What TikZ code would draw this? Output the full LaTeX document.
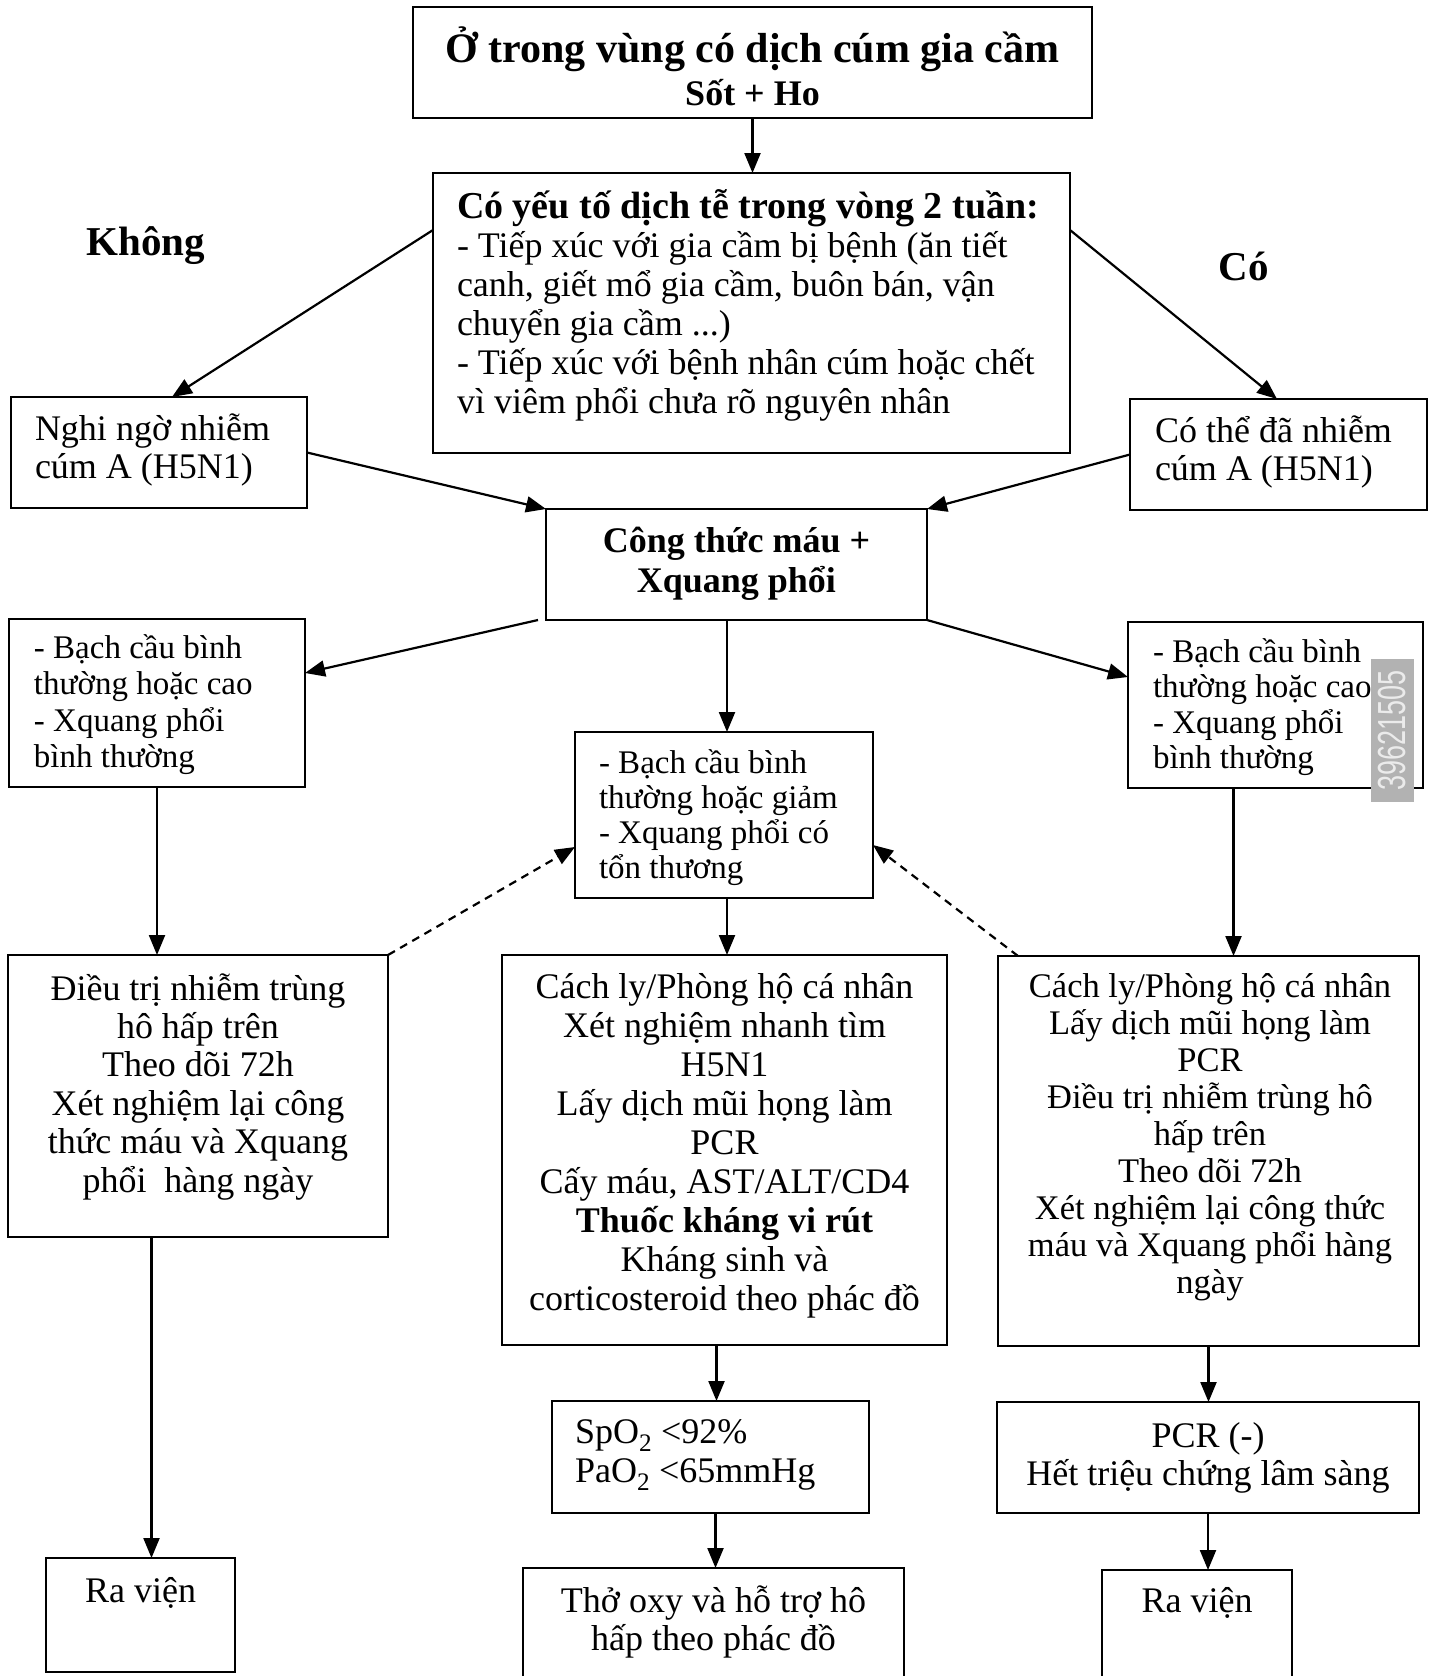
\documentclass[tikz,border=0pt]{standalone}
\usepackage{fontspec}
\setmainfont{Liberation Serif}
\setsansfont{Liberation Sans}
\usetikzlibrary{arrows.meta}
\newcommand{\centerlines}[1]{\vtop{\lineskiplimit=-1000pt\lineskip=0pt\halign{\hfil##\hfil\cr#1\crcr}}}
\newcommand{\leftlines}[1]{\vtop{\lineskiplimit=-1000pt\lineskip=0pt\halign{##\hfil\cr#1\crcr}}}
\tikzset{
  box/.style={draw, line width=2.8pt, inner sep=0pt, outer sep=0pt},
  txt/.style={inner sep=0pt, outer sep=0pt},
  arr/.style={line width=2.2pt, -{Triangle[length=20pt,width=16pt]}},
  dasharr/.style={arr, dash pattern=on 8pt off 6pt},
  fs/.style={font=\fontsize{#1}{#1}\selectfont},
}
\begin{document}
\begin{tikzpicture}[x=1pt,y=-1pt]
\useasboundingbox (0,0) rectangle (1431,1676);
\fill[white] (0,0) rectangle (1431,1676);

% ---------- boxes ----------
\node[box, minimum width=679pt, minimum height=111pt] (top) at (752.5,62.5) {};
\node[box, minimum width=637pt, minimum height=280pt] (epi) at (751.5,313) {};
\node[box, minimum width=296pt, minimum height=111pt] (nghi) at (159,452.5) {};
\node[box, minimum width=297pt, minimum height=111pt] (cothe) at (1278.5,454.5) {};
\node[box, minimum width=381pt, minimum height=111pt] (ctm) at (736.5,564.5) {};
\node[box, minimum width=296pt, minimum height=168pt] (bcL) at (157,703) {};
\node[box, minimum width=295pt, minimum height=166pt] (bcR) at (1275.5,705) {};
\node[box, minimum width=298pt, minimum height=166pt] (bcM) at (724,815) {};
\node[box, minimum width=380pt, minimum height=282pt] (dtL) at (198,1096) {};
\node[box, minimum width=445pt, minimum height=390pt] (clM) at (724.5,1150) {};
\node[box, minimum width=421pt, minimum height=390pt] (clR) at (1208.5,1151) {};
\node[box, minimum width=317pt, minimum height=112pt] (spo) at (710.5,1457) {};
\node[box, minimum width=422pt, minimum height=111pt] (pcr) at (1208,1457.5) {};
\node[box, minimum width=381pt, minimum height=132pt] (oxy) at (713.5,1634) {};
\node[box, minimum width=189pt, minimum height=114pt] (rvL) at (140.5,1615) {};
\node[box, minimum width=190pt, minimum height=130pt] (rvR) at (1197,1635) {};

% ---------- watermark ----------
\node[fill=black!30, minimum width=43pt, minimum height=143pt, inner sep=0pt] (wm) at (1392.5,730.5) {};
\node[txt, rotate=90, text=black!8, font=\sffamily] (wmT) at (wm.center) {\scalebox{1}[1.45]{\fontsize{27}{27}\selectfont 39621505}};

% ---------- texts ----------
\node[txt, anchor=base, font=\fontsize{42}{44}\selectfont\bfseries] (topA) at (752.5,62) {Ở trong vùng có dịch cúm gia cầm};
\node[txt, anchor=base, font=\fontsize{36}{40}\selectfont\bfseries] (topB) at (752.5,105) {Sốt + Ho};

\node[txt, anchor=base west, font=\fontsize{36}{39}\selectfont] (epiT) at (457,218)
  {\leftlines{{\fontsize{38}{39}\selectfont\bfseries Có yếu tố dịch tễ trong vòng 2 tuần:}\cr
   - Tiếp xúc với gia cầm bị bệnh (ăn tiết\cr
   canh, giết mổ gia cầm, buôn bán, vận\cr
   chuyển gia cầm ...)\cr
   - Tiếp xúc với bệnh nhân cúm hoặc chết\cr
   vì viêm phổi chưa rõ nguyên nhân}};

\node[txt, anchor=base, font=\fontsize{41}{44}\selectfont\bfseries] (khong) at (146,255) {Không};
\node[txt, anchor=base, font=\fontsize{41}{44}\selectfont\bfseries] (co) at (1244,280) {Có};

\node[txt, anchor=base west, font=\fontsize{36}{38}\selectfont] (nghiT) at (35,440)
  {\leftlines{Nghi ngờ nhiễm\cr cúm A (H5N1)}};
\node[txt, anchor=base west, font=\fontsize{36}{38}\selectfont] (cotheT) at (1155,442)
  {\leftlines{Có thể đã nhiễm\cr cúm A (H5N1)}};

\node[txt, anchor=base, font=\fontsize{36}{40}\selectfont\bfseries] (ctmT) at (736.5,552)
  {\centerlines{Công thức máu +\cr Xquang phổi}};

\node[txt, anchor=base west, font=\fontsize{33}{36.5}\selectfont] (bcLT) at (34,658)
  {\leftlines{- Bạch cầu bình\cr thường hoặc cao\cr - Xquang phổi\cr bình thường}};
\node[txt, anchor=base west, font=\fontsize{33}{35.5}\selectfont] (bcRT) at (1153,662)
  {\leftlines{- Bạch cầu bình\cr thường hoặc cao\cr - Xquang phổi\cr bình thường}};
\node[txt, anchor=base west, font=\fontsize{33}{35}\selectfont] (bcMT) at (599,773)
  {\leftlines{- Bạch cầu bình\cr thường hoặc giảm\cr - Xquang phổi có\cr tổn thương}};

\node[txt, anchor=base, font=\fontsize{36}{38.4}\selectfont] (dtLT) at (198,1000)
  {\centerlines{Điều trị nhiễm trùng\cr hô hấp trên\cr Theo dõi 72h\cr Xét nghiệm lại công\cr thức máu và Xquang\cr phổi~ hàng ngày}};

\node[txt, anchor=base, font=\fontsize{36}{39}\selectfont] (clMT) at (724.5,998)
  {\centerlines{Cách ly/Phòng hộ cá nhân\cr Xét nghiệm nhanh tìm\cr H5N1\cr Lấy dịch mũi họng làm\cr PCR\cr Cấy máu, AST/ALT/CD4\cr \textbf{Thuốc kháng vi rút}\cr Kháng sinh và\cr corticosteroid theo phác đồ}};

\node[txt, anchor=base, font=\fontsize{34.5}{37}\selectfont] (clRT) at (1210,997)
  {\centerlines{Cách ly/Phòng hộ cá nhân\cr Lấy dịch mũi họng làm\cr PCR\cr Điều trị nhiễm trùng hô\cr hấp trên\cr Theo dõi 72h\cr Xét nghiệm lại công thức\cr máu và Xquang phổi hàng\cr ngày}};

\node[txt, anchor=base west, font=\fontsize{36}{39}\selectfont] (spoT) at (575,1443)
  {\leftlines{SpO\textsubscript{2} <92\%\cr PaO\textsubscript{2} <65mmHg}};
\node[txt, anchor=base, font=\fontsize{36}{38}\selectfont] (pcrT) at (1208,1447)
  {\centerlines{PCR (-)\cr Hết triệu chứng lâm sàng}};
\node[txt, anchor=base, font=\fontsize{36}{38}\selectfont] (oxyT) at (713.5,1612)
  {\centerlines{Thở oxy và hỗ trợ hô\cr hấp theo phác đồ}};
\node[txt, anchor=base, font=\fontsize{36}{38}\selectfont] (rvLT) at (140.5,1602) {Ra viện};
\node[txt, anchor=base, font=\fontsize{36}{38}\selectfont] (rvRT) at (1197,1612) {Ra viện};

% ---------- connectors ----------
\draw[arr] (top.south) -- (top.south |- epi.north);
\draw[arr] ([yshift=-57pt]epi.north west) -- ([xshift=13pt]nghi.north);
\draw[arr] ([yshift=-57pt]epi.north east) -- ([xshift=-1.5pt]cothe.north);
\draw[arr] (nghi.east) -- (ctm.north west);
\draw[arr] (cothe.west) -- (ctm.north east);
\draw[arr] ([xshift=-8pt]ctm.south west) -- ([yshift=-54pt]bcL.north east);
\draw[arr] (ctm.south east) -- ([yshift=-55pt]bcR.north west);
\draw[arr] ([xshift=3pt]bcM.north |- ctm.south) -- ([xshift=3pt]bcM.north);
\draw[arr] (bcL.south) -- (bcL.south |- dtL.north);
\draw[dasharr] (dtL.north east) -- ([yshift=-115pt]bcM.north west);
\draw[dasharr] ([xshift=20pt]clR.north west) -- ([yshift=-113pt]bcM.north east);
\draw[arr] ([xshift=3pt]bcM.south) -- ([xshift=3pt]bcM.south |- clM.north);
\draw[arr] ([xshift=-42pt]bcR.south) -- ([xshift=-42pt]bcR.south |- clR.north);
\draw[arr] ([xshift=6pt]spo.north |- clM.south) -- ([xshift=6pt]spo.north);
\draw[arr] (clR.south) -- (clR.south |- pcr.north);
\draw[arr] ([xshift=5pt]spo.south) -- ([xshift=5pt]spo.south |- oxy.north);
\draw[arr] (pcr.south) -- (pcr.south |- rvR.north);
\draw[arr] ([xshift=11pt]rvL.north |- dtL.south) -- ([xshift=11pt]rvL.north);
\end{tikzpicture}
\end{document}
